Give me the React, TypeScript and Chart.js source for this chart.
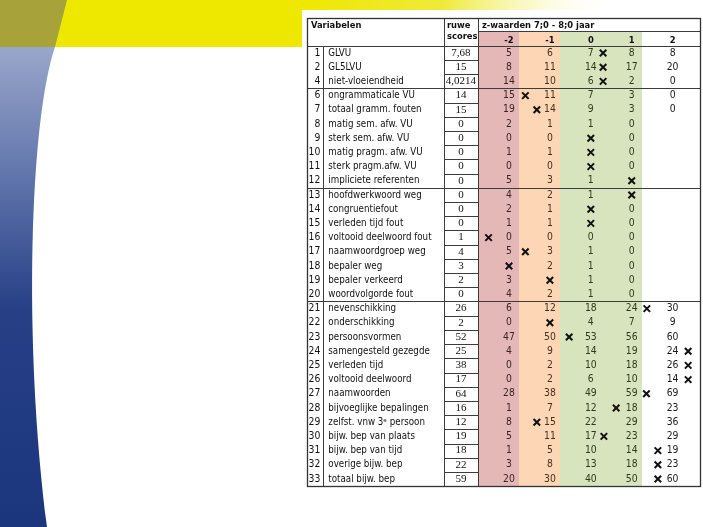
import React, { useEffect, useRef } from 'react';
import { Chart, registerables } from 'chart.js';

Chart.register(...registerables);

// ---------------- data ----------------
const rowNumbers = [1, 2, 4, 6, 7, 8, 9, 10, 11, 12, 13, 14, 15, 16, 17, 18, 19, 20, 21, 22, 23, 24, 25, 26, 27, 28, 29, 30, 31, 32, 33];
const variableNames = [
  'GLVU', 'GL5LVU', 'niet-vloeiendheid', 'ongrammaticale VU', 'totaal gramm. fouten',
  'matig sem. afw. VU', 'sterk sem. afw. VU', 'matig pragm. afw. VU', 'sterk pragm.afw. VU', 'impliciete referenten',
  'hoofdwerkwoord weg', 'congruentiefout', 'verleden tijd fout', 'voltooid deelwoord fout', 'naamwoordgroep weg',
  'bepaler weg', 'bepaler verkeerd', 'woordvolgorde fout', 'nevenschikking', 'onderschikking',
  'persoonsvormen', 'samengesteld gezegde', 'verleden tijd', 'voltooid deelwoord', 'naamwoorden',
  'bijvoeglijke bepalingen', 'zelfst. vnw 3ᵉ persoon', 'bijw. bep van plaats', 'bijw. bep van tijd', 'overige bijw. bep',
  'totaal bijw. bep',
];
const rawScores = ['7,68', '15', '4,0214', '14', '15', '0', '0', '0', '0', '0', '0', '0', '0', '1', '4', '3', '2', '0', '26', '2', '52', '25', '38', '17', '64', '16', '12', '19', '18', '22', '59'];

const zColumns = [-2, -1, 0, 1, 2];
const zHeaderLabels = ['-2', '-1', '0', '1', '2'];

const valuesMinus2 = [5, 8, 14, 15, 19, 2, 0, 1, 0, 5, 4, 2, 1, 0, 5, null, 3, 4, 6, 0, 47, 4, 0, 0, 28, 1, 8, 5, 1, 3, 20];
const valuesMinus1 = [6, 11, 10, 11, 14, 1, 0, 1, 0, 3, 2, 1, 1, 0, 3, 2, null, 2, 12, null, 50, 9, 2, 2, 38, 7, 15, 11, 5, 8, 30];
const valuesZero = [7, 14, 6, 7, 9, 1, null, null, null, 1, 1, null, null, 0, 1, 1, 1, 1, 18, 4, 53, 14, 10, 6, 49, 12, 22, 17, 10, 13, 40];
const valuesPlus1 = [8, 17, 2, 3, 3, 0, 0, 0, 0, null, null, 0, 0, 0, 0, 0, 0, 0, 24, 7, 56, 19, 18, 10, 59, 18, 29, 23, 14, 18, 50];
const valuesPlus2 = [8, 20, 0, 0, 0, null, null, null, null, null, null, null, null, null, null, null, null, null, 30, 9, 60, 24, 26, 14, 69, 23, 36, 29, 19, 23, 60];

// position of the "X" mark (in z units) per row, null = no mark
const xMarkZ = [0.3, 0.3, 0.3, -1.6, -1.32, null, 0, 0, 0, 1, 1, 0, 0, -2.5, -1.6, -2, -1, null, 1.37, -1, -0.53, 2.38, 2.38, 2.38, 1.36, 0.62, -1.32, 0.32, 1.64, 1.64, 1.64];

// group separators: after these row indices
const groupBreaksAfter = [2, 9, 17];

// ---------------- layout / style ----------------
const W = 703;
const H = 527;
const X_MIN = -14.445;
const X_MAX = 2.743;
const Y_MIN = -3.732;
const Y_MAX = 33.38;

const TABLE = {
  left: -6.94, numRight: -6.54, nameRight: -3.59, rawRight: -2.76, right: 2.66,
  top: -2.45, zTitleBottom: -1.52, headBottom: -0.5, bottom: 30.5,
};
const BAND_COLORS: Record<string, string> = { '-2': '#e4b8b7', '-1': '#fcd6b5', '0': '#d8e4bd', '1': '#d8e4bd' };
const TEXT_COLORS: Record<string, string> = { '-2': '#3e2424', '-1': '#45301c', '0': '#2e3b1a', '1': '#2e3b1a', '2': '#1a1a1a' };
const SANS = "'DejaVu Sans Condensed', 'DejaVu Sans', sans-serif";
const FONT = `10.3px ${SANS}`;
const NAME_FONT = `9.7px ${SANS}`;
const FONT_BOLD = `bold 9.3px ${SANS}`;
const SERIF = "11px 'Liberation Serif', 'DejaVu Serif', serif";
const LINE = '#3c3c3c';

const seriesByColumn = [valuesMinus2, valuesMinus1, valuesZero, valuesPlus1, valuesPlus2];

const valuePoints: { x: number; y: number; v: string; col: number }[] = [];
seriesByColumn.forEach((series, c) => {
  series.forEach((val, i) => {
    if (val !== null) valuePoints.push({ x: zColumns[c], y: i, v: String(val), col: zColumns[c] });
  });
});
const xPoints: { x: number; y: number }[] = [];
xMarkZ.forEach((z, i) => {
  if (z !== null) xPoints.push({ x: z, y: i });
});

const crisp = (p: number) => Math.round(p) + 0.5;

const backgroundPlugin = {
  id: 'slideBackground',
  beforeDraw(chart: any) {
    const ctx = chart.ctx as CanvasRenderingContext2D;
    ctx.save();
    ctx.fillStyle = '#ffffff';
    ctx.fillRect(0, 0, W, H);
    // top fading yellow strip
    const g1 = ctx.createLinearGradient(300, 0, 620, 0);
    g1.addColorStop(0, '#eee800');
    g1.addColorStop(0.45, '#efea3a');
    g1.addColorStop(1, 'rgba(255,255,255,0)');
    ctx.fillStyle = g1;
    ctx.fillRect(300, 0, 320, 10);
    // main yellow band
    ctx.fillStyle = '#eee800';
    ctx.fillRect(0, 0, 302, 47);
    // olive block
    ctx.fillStyle = '#a7a33a';
    ctx.beginPath();
    ctx.moveTo(0, 0);
    ctx.lineTo(67, 0);
    ctx.lineTo(55, 47);
    ctx.lineTo(0, 47);
    ctx.closePath();
    ctx.fill();
    // blue curved band
    const g2 = ctx.createLinearGradient(0, 47, 0, 527);
    g2.addColorStop(0, '#9aa7cb');
    g2.addColorStop(0.3, '#5a6fa8');
    g2.addColorStop(0.55, '#263f85');
    g2.addColorStop(1, '#1c367e');
    ctx.fillStyle = g2;
    ctx.beginPath();
    ctx.moveTo(0, 47);
    ctx.lineTo(55, 47);
    ctx.bezierCurveTo(30, 120, 23, 340, 47, 527);
    ctx.lineTo(0, 527);
    ctx.closePath();
    ctx.fill();
    ctx.restore();
  },
};

const tablePlugin = {
  id: 'tableFrame',
  beforeDatasetsDraw(chart: any) {
    const ctx = chart.ctx as CanvasRenderingContext2D;
    const xs = chart.scales.x;
    const ys = chart.scales.y;
    const px = (v: number) => xs.getPixelForValue(v);
    const py = (v: number) => ys.getPixelForValue(v);
    ctx.save();

    // colored column bands
    zColumns.forEach((z) => {
      const color = BAND_COLORS[String(z)];
      if (!color) return;
      const x0 = px(z - 0.75);
      const x1 = px(z + 0.25);
      const y0 = py(TABLE.zTitleBottom);
      const y1 = py(TABLE.bottom);
      ctx.fillStyle = color;
      ctx.fillRect(Math.round(x0), Math.round(y0), Math.round(x1) - Math.round(x0), Math.round(y1) - Math.round(y0));
    });

    ctx.strokeStyle = LINE;
    ctx.lineWidth = 1;
    const hLine = (x0: number, x1: number, y: number) => {
      ctx.beginPath();
      ctx.moveTo(Math.round(px(x0)), crisp(py(y)));
      ctx.lineTo(Math.round(px(x1)) + 1, crisp(py(y)));
      ctx.stroke();
    };
    const vLine = (x: number, y0: number, y1: number) => {
      ctx.beginPath();
      ctx.moveTo(crisp(px(x)), Math.round(py(y0)));
      ctx.lineTo(crisp(px(x)), Math.round(py(y1)) + 1);
      ctx.stroke();
    };

    // raw score boxes
    for (let i = 0; i <= rowNumbers.length; i++) {
      hLine(TABLE.nameRight, TABLE.rawRight, i - 0.5);
    }
    // z title bottom line
    hLine(TABLE.rawRight, TABLE.right, TABLE.zTitleBottom);
    // header bottom
    hLine(TABLE.left, TABLE.right, TABLE.headBottom);
    // group separators
    groupBreaksAfter.forEach((r) => hLine(TABLE.left, TABLE.right, r + 0.5));
    // vertical lines
    vLine(TABLE.numRight, TABLE.headBottom, TABLE.bottom);
    vLine(TABLE.nameRight, TABLE.top, TABLE.bottom);
    vLine(TABLE.rawRight, TABLE.top, TABLE.bottom);
    // outer frame
    ctx.lineWidth = 1.3;
    ctx.strokeStyle = '#333333';
    const l = crisp(px(TABLE.left));
    const r = crisp(px(TABLE.right));
    const t = crisp(py(TABLE.top));
    const b = crisp(py(TABLE.bottom));
    ctx.strokeRect(l, t, r - l, b - t);

    // header texts
    ctx.fillStyle = '#111111';
    ctx.font = FONT_BOLD;
    ctx.textBaseline = 'middle';
    ctx.textAlign = 'left';
    ctx.fillText('Variabelen', px(TABLE.left) + 4, py(-1.95));
    ctx.fillText('ruwe', px(TABLE.nameRight) + 3, py(-1.95));
    ctx.fillText('scores', px(TABLE.nameRight) + 3, py(-1.13));
    ctx.fillText('z-waarden 7;0 - 8;0 jaar', px(TABLE.rawRight) + 4, py(-1.95));
    ctx.textAlign = 'center';
    zColumns.forEach((z, k) => {
      ctx.fillText(zHeaderLabels[k], px(z), py(-0.9));
    });

    // row texts
    rowNumbers.forEach((n, i) => {
      const y = py(i);
      ctx.font = FONT;
      ctx.fillStyle = '#111111';
      ctx.textAlign = 'right';
      ctx.fillText(String(n), px(TABLE.numRight) - 3, y);
      ctx.font = NAME_FONT;
      ctx.textAlign = 'left';
      ctx.fillText(variableNames[i], px(TABLE.numRight) + 5, y);
      ctx.font = SERIF;
      ctx.textAlign = 'center';
      ctx.fillText(rawScores[i], (px(TABLE.nameRight) + px(TABLE.rawRight)) / 2, y);
    });
    ctx.restore();
  },
};

const valueLabelPlugin = {
  id: 'cellValues',
  afterDatasetsDraw(chart: any) {
    const ctx = chart.ctx as CanvasRenderingContext2D;
    const meta = chart.getDatasetMeta(0);
    const data = chart.data.datasets[0].data as any[];
    ctx.save();
    ctx.font = FONT;
    ctx.textAlign = 'center';
    ctx.textBaseline = 'middle';
    meta.data.forEach((el: any, i: number) => {
      const d = data[i];
      ctx.fillStyle = TEXT_COLORS[String(d.col)];
      ctx.fillText(d.v, el.x, el.y);
    });
    ctx.restore();
  },
};

export default function App() {
  const ref = useRef<HTMLCanvasElement>(null);
  useEffect(() => {
    if (!ref.current) return;
    const chart = new Chart(ref.current, {
      type: 'scatter',
      data: {
        datasets: [
          { label: 'waarden', data: valuePoints as any, pointRadius: 0, pointHoverRadius: 0 },
          {
            label: 'X', data: xPoints as any, pointStyle: 'crossRot', pointRadius: 4.6,
            borderColor: '#111111', backgroundColor: '#111111', borderWidth: 2,
          },
        ],
      },
      options: {
        responsive: false,
        animation: false,
        events: [],
        layout: { padding: 0, autoPadding: false },
        scales: {
          x: { type: 'linear', min: X_MIN, max: X_MAX, display: false },
          y: { type: 'linear', min: Y_MIN, max: Y_MAX, reverse: true, display: false },
        },
        plugins: { legend: { display: false }, tooltip: { enabled: false } },
      },
      plugins: [backgroundPlugin, tablePlugin, valueLabelPlugin],
    });
    return () => chart.destroy();
  }, []);
  return (
    <div style={{ position: 'absolute', left: 0, top: 0, width: W, height: H }}>
      <canvas ref={ref} width={W} height={H} style={{ display: 'block', width: W, height: H }} />
    </div>
  );
}
